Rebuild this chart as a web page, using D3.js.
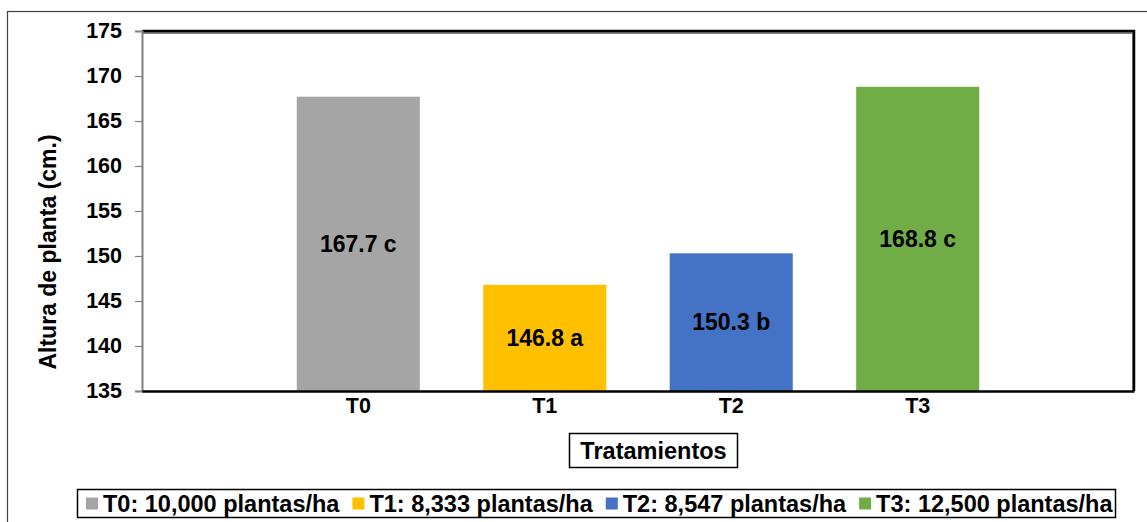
<!DOCTYPE html>
<html>
<head>
<meta charset="utf-8">
<script src="https://cdn.jsdelivr.net/npm/d3@7"></script>
<style>
  body { margin: 0; background: #fff; }
  svg { display: block; font-family: "Liberation Sans", Arial, sans-serif; font-weight: bold; }
</style>
</head>
<body>
<div id="chart"></div>
<script>
// Data
const categories = ["T0", "T1", "T2", "T3"];
const values = [167.7, 146.8, 150.3, 168.8];
const letters = ["c", "a", "b", "c"];
const legendLabels = [
  "T0: 10,000 plantas/ha",
  "T1: 8,333 plantas/ha",
  "T2: 8,547 plantas/ha",
  "T3: 12,500 plantas/ha"
];
const yTicks = [135, 140, 145, 150, 155, 160, 165, 170, 175];
const colors = ["#a5a5a5", "#ffc000", "#4472c4", "#70ad47"];

const width = 1147;
const height = 522;
const margin = { top: 31, right: 13, bottom: 131, left: 142 };

const svg = d3
  .select("#chart")
  .append("svg")
  .attr("width", width)
  .attr("height", height);

// outer chart frame
svg
  .append("rect")
  .attr("x", 7.5)
  .attr("y", 11.5)
  .attr("width", width + 20)
  .attr("height", height + 20)
  .attr("fill", "none")
  .attr("stroke", "#404040")
  .attr("stroke-width", 1.2);

const x = d3
  .scaleBand()
  .domain(categories)
  .range([margin.left, width - margin.right])
  .paddingInner(0.34)
  .paddingOuter(0.83);

const y = d3
  .scaleLinear()
  .domain([135, 175])
  .range([height - margin.bottom, margin.top]);

// bars
svg
  .append("g")
  .selectAll("rect")
  .data(values)
  .join("rect")
  .attr("x", (d, i) => x(categories[i]))
  .attr("y", (d) => y(d))
  .attr("width", x.bandwidth())
  .attr("height", (d) => y(135) - y(d))
  .attr("fill", (d, i) => colors[i]);

// value labels in the middle of the bars
svg
  .append("g")
  .selectAll("text")
  .data(values)
  .join("text")
  .attr("x", (d, i) => x(categories[i]) + x.bandwidth() / 2)
  .attr("y", (d) => (y(d) + y(135)) / 2)
  .attr("dy", "0.35em")
  .attr("text-anchor", "middle")
  .attr("font-size", 23)
  .attr("fill", "#000")
  .text((d, i) => `${d.toFixed(1)} ${letters[i]}`);

// plot frame: top and right black with grey shadow
const x0 = margin.left, x1 = width - margin.right;
const yTop = y(175), yBot = y(135);
svg.append("path")
  .attr("d", `M${x0},${yTop + 2}H${x1 - 1}V${yBot}`)
  .attr("fill", "none").attr("stroke", "#808080").attr("stroke-width", 2);
svg.append("path")
  .attr("d", `M${x0},${yTop}H${x1}V${yBot}`)
  .attr("fill", "none").attr("stroke", "#000").attr("stroke-width", 2.5);

// y axis
svg
  .append("g")
  .attr("transform", `translate(${margin.left},0)`)
  .call(d3.axisLeft(y).tickValues(yTicks).tickSize(7).tickPadding(13))
  .call((g) => g.select(".domain").attr("stroke", "#808080").attr("stroke-width", 2))
  .call((g) => g.selectAll(".tick line").attr("stroke", "#808080").attr("stroke-width", 1.2))
  .call((g) =>
    g.selectAll(".tick text")
      .attr("font-size", 21.5)
      .attr("font-family", "Liberation Sans, Arial, sans-serif")
      .attr("font-weight", "bold")
      .attr("fill", "#000")
  );

// x axis baseline
svg
  .append("g")
  .attr("transform", `translate(0,${yBot})`)
  .call(d3.axisBottom(x).tickSize(0).tickPadding(7).tickSizeOuter(0))
  .call((g) => g.select(".domain").attr("stroke", "#000").attr("stroke-width", 2.5))
  .call((g) =>
    g.selectAll(".tick text")
      .attr("font-size", 21.5)
      .attr("font-family", "Liberation Sans, Arial, sans-serif")
      .attr("font-weight", "bold")
      .attr("fill", "#000")
  );

// y axis title
svg
  .append("text")
  .attr("transform", `translate(48,${(yTop + yBot) / 2 + 41}) rotate(-90)`)
  .attr("text-anchor", "middle")
  .attr("dy", "0.35em")
  .attr("font-size", 23)
  .attr("fill", "#000")
  .text("Altura de planta (cm.)");

// x axis title in a box
const xTitle = svg.append("g");
xTitle
  .append("rect")
  .attr("x", 569.5)
  .attr("y", 433.5)
  .attr("width", 168)
  .attr("height", 34)
  .attr("fill", "#fff")
  .attr("stroke", "#000")
  .attr("stroke-width", 1.5);
xTitle
  .append("text")
  .attr("x", 653.5)
  .attr("y", 451)
  .attr("dy", "0.35em")
  .attr("text-anchor", "middle")
  .attr("font-size", 23.5)
  .attr("fill", "#000")
  .text("Tratamientos");

// legend
const legend = svg.append("g");
legend
  .append("rect")
  .attr("x", 77.5)
  .attr("y", 489.5)
  .attr("width", 1038)
  .attr("height", 28)
  .attr("fill", "#fff")
  .attr("stroke", "#000")
  .attr("stroke-width", 1.5);

// items placed one after another, like the spreadsheet legend
let cursor = 86;
legendLabels.forEach((label, i) => {
  const item = legend.append("g").attr("transform", `translate(${cursor},503.5)`);
  item
    .append("rect")
    .attr("x", 0)
    .attr("y", -6)
    .attr("width", 12)
    .attr("height", 12)
    .attr("fill", colors[i]);
  const t = item
    .append("text")
    .attr("x", 17)
    .attr("dy", "0.36em")
    .attr("font-size", 23.5)
    .attr("fill", "#000")
    .text(label);
  cursor += 17 + t.node().getComputedTextLength() + 13;
});
</script>
</body>
</html>
